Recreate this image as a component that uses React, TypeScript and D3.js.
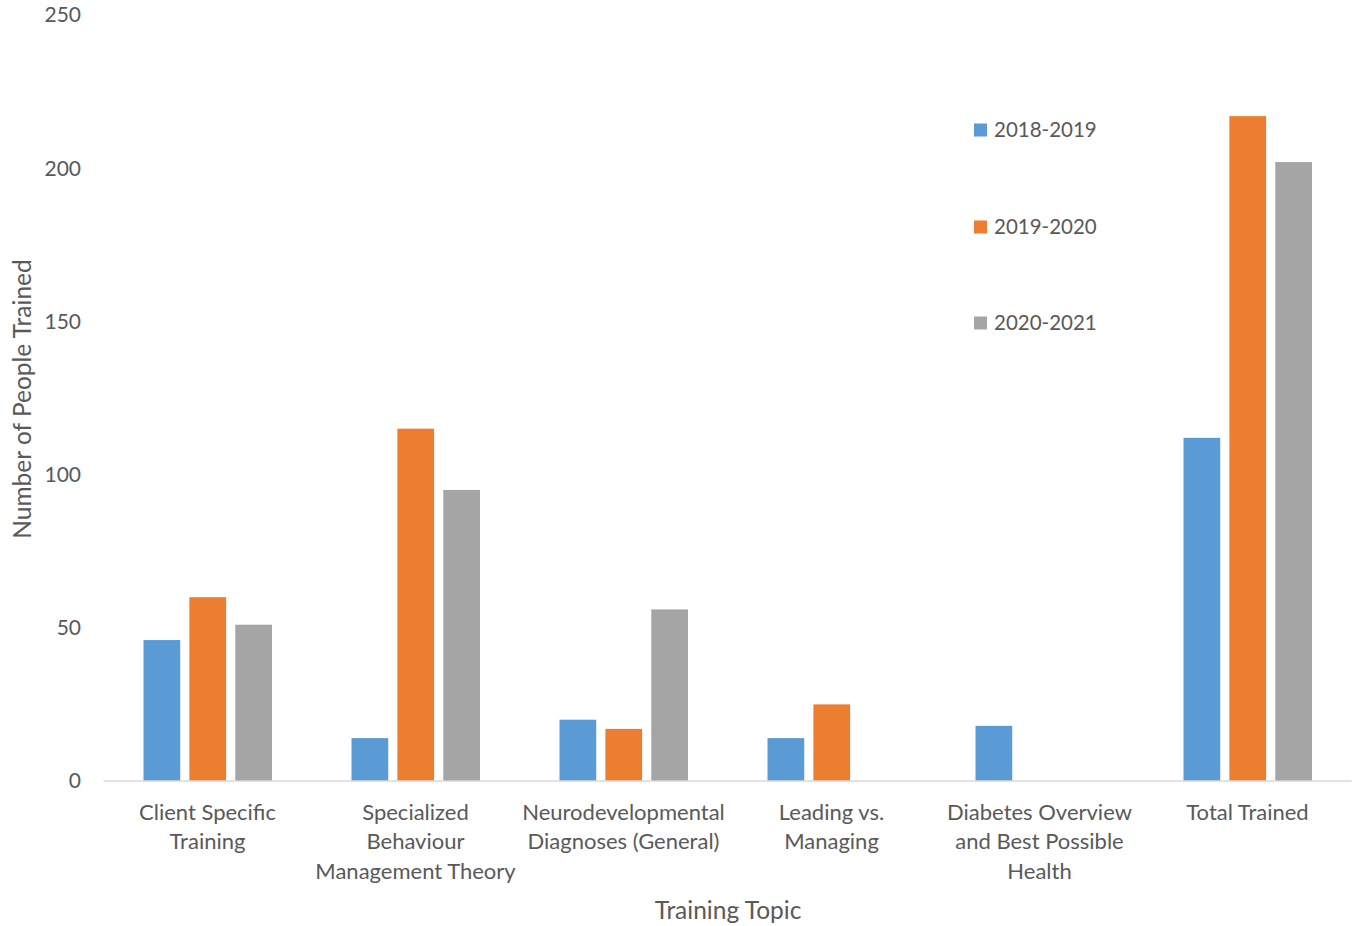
import React from "react";
import * as d3 from "d3";

const categories: string[][] = [
  ["Client Specific", "Training"],
  ["Specialized", "Behaviour", "Management Theory"],
  ["Neurodevelopmental", "Diagnoses (General)"],
  ["Leading vs.", "Managing"],
  ["Diabetes Overview", "and Best Possible", "Health"],
  ["Total Trained"],
];
const seriesNames = ["2018-2019", "2019-2020", "2020-2021"];
const s2018 = [46, 14, 20, 14, 18, 112];
const s2019 = [60, 115, 17, 25, 0, 217];
const s2020 = [51, 95, 56, 0, 0, 202];
const yTicks = [0, 50, 100, 150, 200, 250];
const colors = ["#5b9bd5", "#ed7d31", "#a5a5a5"];

const W = 1359;
const H = 926;
const FONT = "Lato, 'Open Sans', sans-serif";
const TXT = "#595959";

export default function App() {
  const series = [s2018, s2019, s2020];
  const x = d3.scaleBand<number>().domain(d3.range(categories.length)).range([103.5, 1351.5]).padding(0);
  const inner = d3.scaleBand<number>().domain([0, 1, 2]).range([40, 168.5]).paddingInner(0.2).paddingOuter(0);
  const y = d3.scaleLinear().domain([0, 250]).range([781, 15]);
  const legendY = [130, 227, 323];

  return (
    <svg width={W} height={H} style={{ position: "absolute", left: 0, top: 0, background: "#fff" }} fontFamily={FONT}>
      {series.map((vals, si) =>
        vals.map((v, ci) =>
          v > 0 ? (
            <rect
              key={`${si}-${ci}`}
              x={(x(ci) as number) + (inner(si) as number)}
              y={y(v)}
              width={inner.bandwidth()}
              height={y(0) - y(v)}
              fill={colors[si]}
            />
          ) : null
        )
      )}
      <line x1={103.5} x2={1351.5} y1={y(0)} y2={y(0)} stroke="#d9d9d9" strokeWidth={1.5} />
      {yTicks.map((t) => (
        <text key={t} x={81} y={y(t)} dy="0.35em" textAnchor="end" fontSize={21} fill={TXT}>
          {t}
        </text>
      ))}
      {categories.map((lines, ci) => (
        <text key={ci} textAnchor="middle" fontSize={22} fill={TXT}>
          {lines.map((l, li) => (
            <tspan key={li} x={(x(ci) as number) + x.bandwidth() / 2} y={812 + li * 29.5} dy="0.35em">
              {l}
            </tspan>
          ))}
        </text>
      ))}
      <text x={728} y={910} dy="0.35em" textAnchor="middle" fontSize={24.5} fill={TXT}>
        Training Topic
      </text>
      <text transform="translate(22,399) rotate(-90)" dy="0.35em" textAnchor="middle" fontSize={24.5} fill={TXT}>
        Number of People Trained
      </text>
      {seriesNames.map((n, i) => (
        <g key={n}>
          <rect x={974} y={legendY[i] - 6.5} width={13} height={13} fill={colors[i]} />
          <text x={994} y={legendY[i]} dy="0.35em" fontSize={20.5} fill={TXT}>
            {n}
          </text>
        </g>
      ))}
    </svg>
  );
}
